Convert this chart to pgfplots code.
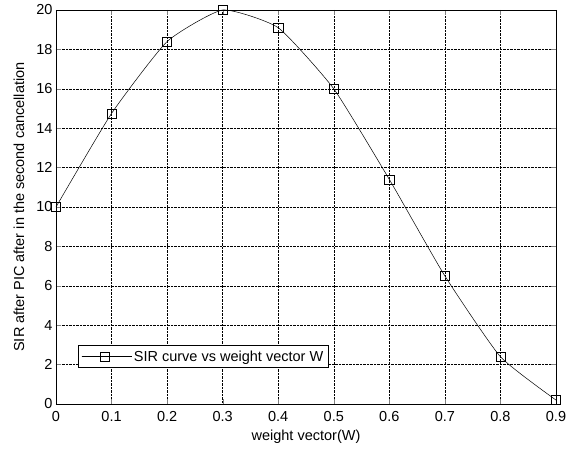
\documentclass[border=0pt]{standalone}
\usepackage{pgfplots}
\pgfplotsset{compat=1.18}
\usepackage{fontspec}
\setmainfont{Liberation Sans}
\begin{document}
\begin{tikzpicture}
\useasboundingbox (-56pt,-48pt) rectangle (512pt,404pt);
\begin{axis}[
  scale only axis,
  width=500pt, height=394pt,
  xmin=0, xmax=0.9, ymin=0, ymax=20,
  xtick={0,0.1,...,0.9},
  xticklabels={0,0.1,0.2,0.3,0.4,0.5,0.6,0.7,0.8,0.9},
  ytick={0,2,...,20},
  /pgf/number format/assume math mode=true,
  tick label style={font=\fontsize{14.5}{16}\selectfont},
  xticklabel style={yshift=-3.5pt},
  label style={font=\fontsize{14.5}{16}\selectfont},
  xlabel={weight vector(W)},
  ylabel={SIR after PIC after in the second cancellation},
  xlabel style={at={(axis description cs:0.5,0)}, anchor=center, yshift=-33pt},
  ylabel style={at={(axis description cs:0,0.5)}, anchor=center, yshift=37pt},
  grid=major,
  major grid style={black, densely dotted, line width=0.5pt},
  tick align=inside,
  xtick pos=both, ytick pos=both,
  major tick length=5pt,
  axis line style={line width=0.7pt},
  legend style={at={(axis cs:0.0396,1.83)}, anchor=south west,
    font=\fontsize{14.5}{16}\selectfont, draw=black, line width=0.8pt,
    inner xsep=3pt, inner ysep=3pt},
  legend cell align=left,
  legend image code/.code={
    \path (0pt,0pt) -- (50pt,0pt);
    \draw[#1] (0pt,0pt) -- (46pt,0pt);
    \draw[#1, mark repeat=1] plot coordinates {(23pt,0pt)};
  },
]
\addplot[black, line width=0.5pt, smooth, tension=0.3, mark=square, mark size=4.6pt, mark options={line width=0.6pt, solid}]
  coordinates {
  (0,10) (0.1,14.75) (0.2,18.4) (0.3,20) (0.4,19.1) (0.5,16) (0.6,11.4) (0.7,6.5) (0.8,2.4) (0.9,0.2)
  };
\addlegendentry{SIR curve vs weight vector W}
\end{axis}
\end{tikzpicture}
\end{document}
